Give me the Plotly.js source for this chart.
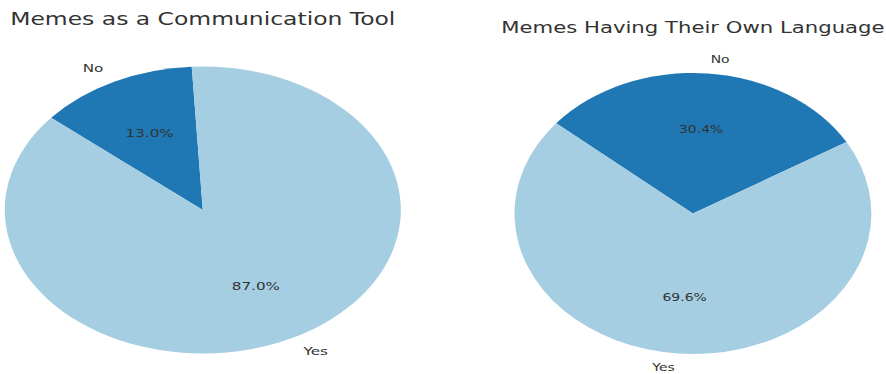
<!DOCTYPE html>
<html>
<head>
<meta charset="utf-8">
<script src="https://cdn.plot.ly/plotly-3.0.1.min.js"></script>
<style>
  html, body { margin: 0; padding: 0; background: #ffffff; }
  #wrap { position: relative; width: 886px; height: 374px; overflow: hidden; background: #ffffff; }
  .pane { position: absolute; top: 0; transform-origin: 0 0; }
</style>
</head>
<body>
<div id="wrap">
  <div id="left" class="pane"></div>
  <div id="right" class="pane"></div>
</div>
<script>
// ---- data ----
const categories = ['Yes', 'No'];
const communicationValues = [87.0, 13.0];
const ownLanguageValues = [69.6, 30.4];
const chartTitles = ['Memes as a Communication Tool', 'Memes Having Their Own Language'];

// ---- style ----
const sliceColors = ['#a6cee3', '#1f78b4'];
const FONT = 'DejaVu Sans, Verdana, sans-serif';
const TEXT_COLOR = '#333333';
const START_ANGLE = 140; // degrees, counterclockwise (matplotlib style)

// pane geometry: native (unstretched) layout, then stretched horizontally
const panes = [
  { id: 'left',  values: communicationValues, title: chartTitles[0], titleSize: 17,
    nativeW: 320, cx: 160, cy: 210,   r: 143.5, screenCx: 203,   sx: 1.38, titleTop: 13.5 },
  { id: 'right', values: ownLanguageValues,   title: chartTitles[1], titleSize: 16.7,
    nativeW: 340, cx: 170, cy: 213.5, r: 140.5, screenCx: 692.5, sx: 1.27, titleTop: 21 }
];
const H = 374;

panes.forEach(p => {
  const el = document.getElementById(p.id);
  el.style.left = (p.screenCx - p.sx * p.cx) + 'px';
  el.style.width = p.nativeW + 'px';
  el.style.height = H + 'px';
  el.style.transform = 'scaleX(' + p.sx + ')';

  const total = p.values.reduce((a, b) => a + b, 0);
  const annotations = [];
  let theta = START_ANGLE;
  p.values.forEach((v, i) => {
    const span = 360 * v / total;
    const mid = (theta + theta + span) / 2 * Math.PI / 180;
    theta += span;
    const c = Math.cos(mid), s = Math.sin(mid);
    // category label at 1.1 r
    annotations.push({
      xref: 'paper', yref: 'paper', showarrow: false,
      x: (p.cx + 1.1 * p.r * c) / p.nativeW,
      y: 1 - (p.cy - 1.1 * p.r * s) / H,
      xanchor: c > 0 ? 'left' : 'right', yanchor: 'middle',
      text: categories[i], borderpad: 0,
      font: { family: FONT, size: 11, color: TEXT_COLOR }
    });
    // percentage at 0.6 r
    annotations.push({
      xref: 'paper', yref: 'paper', showarrow: false,
      x: (p.cx + 0.6 * p.r * c) / p.nativeW,
      y: 1 - (p.cy - 0.6 * p.r * s) / H,
      xanchor: 'center', yanchor: 'middle',
      text: (100 * v / total).toFixed(1) + '%', borderpad: 0,
      font: { family: FONT, size: 11, color: TEXT_COLOR }
    });
  });

  // counterclockwise from START_ANGLE == clockwise from START_ANGLE with reversed order
  const trace = {
    type: 'pie',
    labels: categories.slice().reverse(),
    values: p.values.slice().reverse(),
    sort: false,
    direction: 'clockwise',
    rotation: 90 - START_ANGLE,
    textinfo: 'none',
    hoverinfo: 'label+percent',
    showlegend: false,
    marker: { colors: sliceColors.slice().reverse(), line: { width: 0 } },
    domain: {
      x: [(p.cx - p.r) / p.nativeW, (p.cx + p.r) / p.nativeW],
      y: [1 - (p.cy + p.r) / H, 1 - (p.cy - p.r) / H]
    }
  };

  const layout = {
    width: p.nativeW, height: H,
    margin: { l: 0, r: 0, t: 0, b: 0 },
    paper_bgcolor: 'rgba(0,0,0,0)', plot_bgcolor: 'rgba(0,0,0,0)',
    title: {
      text: p.title,
      font: { family: FONT, size: p.titleSize, color: TEXT_COLOR },
      x: p.cx / p.nativeW, xanchor: 'center', xref: 'paper',
      y: 1 - p.titleTop / H, yanchor: 'top', yref: 'container'
    },
    annotations: annotations
  };

  Plotly.newPlot(el, [trace], layout, { displayModeBar: false, staticPlot: true });
});
</script>
</body>
</html>
